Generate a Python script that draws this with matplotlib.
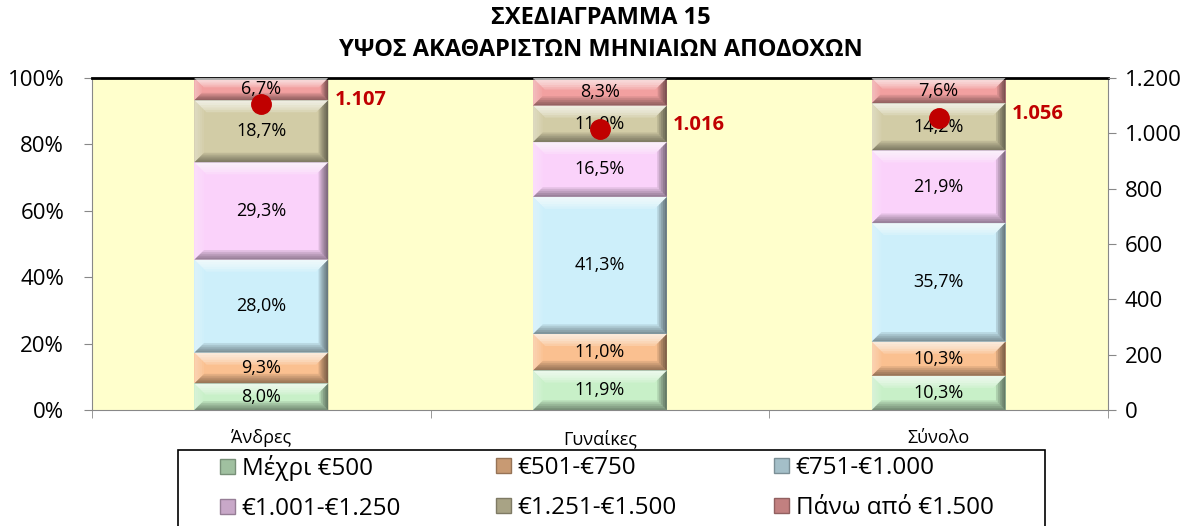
import numpy as np
import matplotlib
matplotlib.use("Agg")
import matplotlib.pyplot as plt
from matplotlib.patches import Polygon, Rectangle
from matplotlib.transforms import IdentityTransform
from matplotlib.colors import to_rgb

plt.rcParams['font.family'] = ['Open Sans', 'DejaVu Sans']

categories = ["Άνδρες", "Γυναίκες", "Σύνολο"]
series_names = ["Μέχρι €500", "€501-€750", "€751-€1.000",
                "€1.001-€1.250", "€1.251-€1.500", "Πάνω από €1.500"]
# percentages per series (rows) for each category (columns)
shares = [
    [8.0, 11.9, 10.3],
    [9.3, 11.0, 10.3],
    [28.0, 41.3, 35.7],
    [29.3, 16.5, 21.9],
    [18.7, 11.0, 14.2],
    [6.7, 8.3, 7.6],
]
avg_pay = [1107, 1016, 1056]
avg_labels = ["1.107", "1.016", "1.056"]

colors = ["#C8F0C8", "#FAC090", "#CDEFFA", "#FAD2FA", "#D2CCA6", "#F2A0A0"]

W, H = 1201, 526
fig = plt.figure(figsize=(W / 100, H / 100), dpi=100)
ax = fig.add_axes([92 / W, 1 - 410 / H, (1108 - 92) / W, (410 - 78) / H])
ax.set_facecolor("#FFFFCC")

x = np.arange(len(categories))
bw = 0.395
bottom = np.zeros(len(categories))
patches = []
for i, vals in enumerate(shares):
    vals = np.array(vals)
    bars = ax.bar(x, vals, bw, bottom=bottom, color=colors[i], edgecolor="none", zorder=2)
    for j, b in enumerate(bars):
        patches.append((b, colors[i]))
        ax.text(x[j], bottom[j] + vals[j] / 2, f"{vals[j]:.1f}%".replace(".", ","),
                ha="center", va="center", fontsize=13, color="black", zorder=5)
    bottom += vals

ax.set_xlim(-0.5, len(categories) - 0.5)
ax.set_ylim(0, 100)
ax.set_yticks(np.arange(0, 101, 20))
ax.set_yticklabels([f"{v}%" for v in range(0, 101, 20)], fontsize=16)
ax.set_xticks(x)
ax.set_xticklabels(categories, fontsize=13)
ax.tick_params(axis="x", length=0, pad=14)
ax.set_xticks(np.arange(-0.5, len(categories)), minor=True)
ax.tick_params(axis="x", which="minor", length=6, color="#888888", direction="out")
ax.tick_params(axis="y", length=6, color="#888888", pad=14)
for s in ["left", "bottom", "right"]:
    ax.spines[s].set_color("#888888")
ax.spines["top"].set_color("black")
ax.spines["top"].set_linewidth(2)

# soft bevel effect drawn in pixel space
def bevel(x0, y0, x1, y1, side, d, rgb, alpha, n=5):
    for k in range(1, n + 1):
        e = d * k / n
        if side == "top":
            pts = [(x0, y1), (x1, y1), (x1 - e, y1 - e), (x0 + e, y1 - e)]
        elif side == "bottom":
            pts = [(x0, y0), (x1, y0), (x1 - e, y0 + e), (x0 + e, y0 + e)]
        elif side == "left":
            pts = [(x0, y0), (x0, y1), (x0 + e, y1 - e), (x0 + e, y0 + e)]
        else:
            pts = [(x1, y0), (x1, y1), (x1 - e, y1 - e), (x1 - e, y0 + e)]
        ax.add_artist(Polygon(pts, facecolor=rgb, alpha=alpha / n, edgecolor="none",
                              transform=IdentityTransform(), zorder=3))

for b, c in patches:
    (x0, y0), (x1, y1) = ax.transData.transform([(b.get_x(), b.get_y()),
                                                  (b.get_x() + b.get_width(), b.get_y() + b.get_height())])
    d = min(12, (y1 - y0) / 2.4)
    bevel(x0, y0, x1, y1, "top", d, "white", 1.0)
    bevel(x0, y0, x1, y1, "left", d * 0.8, "white", 0.35)
    bevel(x0, y0, x1, y1, "bottom", d * 0.8, "black", 0.45)
    bevel(x0, y0, x1, y1, "right", d * 0.8, "black", 0.6)

ax2 = ax.twinx()
ax2.set_ylim(0, 1200)
ax2.set_yticks(np.arange(0, 1201, 200))
ax2.set_yticklabels([f"{v:,}".replace(",", ".") for v in range(0, 1201, 200)], fontsize=16)
ax2.tick_params(axis="y", length=6, color="#888888", pad=6)
for s in ax2.spines.values():
    s.set_visible(False)
ax2.plot(x, avg_pay, "o", color="#C00000", markersize=14, zorder=6)
for xi, v, lab in zip(x, avg_pay, avg_labels):
    ax2.annotate(lab, (xi, v), xytext=(73, 4), textcoords="offset pixels",
                 ha="left", va="center", fontsize=14.5, fontweight="bold", color="#C00000")

fig.text(0.5, 1 - 18 / H, "ΣΧΕΔΙΑΓΡΑΜΜΑ 15", ha="center", va="center",
         fontsize=17, fontweight="bold")
fig.text(0.5, 1 - 50 / H, "ΥΨΟΣ ΑΚΑΘΑΡΙΣΤΩΝ ΜΗΝΙΑΙΩΝ ΑΠΟΔΟΧΩΝ", ha="center", va="center",
         fontsize=17, fontweight="bold")

def mix(c, t, a):
    c = np.array(to_rgb(c))
    return tuple(c * (1 - a) + np.array(t) * a)

# legend frame (runs off the bottom edge like the original)
fig.add_artist(Rectangle((178 / W, -0.05), 867 / W, 1 - 450 / H + 0.05, transform=fig.transFigure,
                         facecolor="white", edgecolor="black", linewidth=1.2, zorder=1))

handles = [Rectangle((0, 0), 1, 1, facecolor=mix(c, (0, 0, 0), 0.2),
                     edgecolor=mix(c, (0, 0, 0), 0.4)) for c in colors]
col_x = [220, 496, 774]
for k, cx in enumerate(col_x):
    idx = [k, k + 3]
    fig.legend([handles[i] for i in idx], [series_names[i] for i in idx],
               loc="center left", bbox_to_anchor=(cx / W, 1 - 488 / H),
               fontsize=17.5, frameon=False, handlelength=0.6, handleheight=0.6,
               handletextpad=0.3, borderpad=0, labelspacing=0.65, borderaxespad=0)

fig.savefig("out.png", dpi=100)
